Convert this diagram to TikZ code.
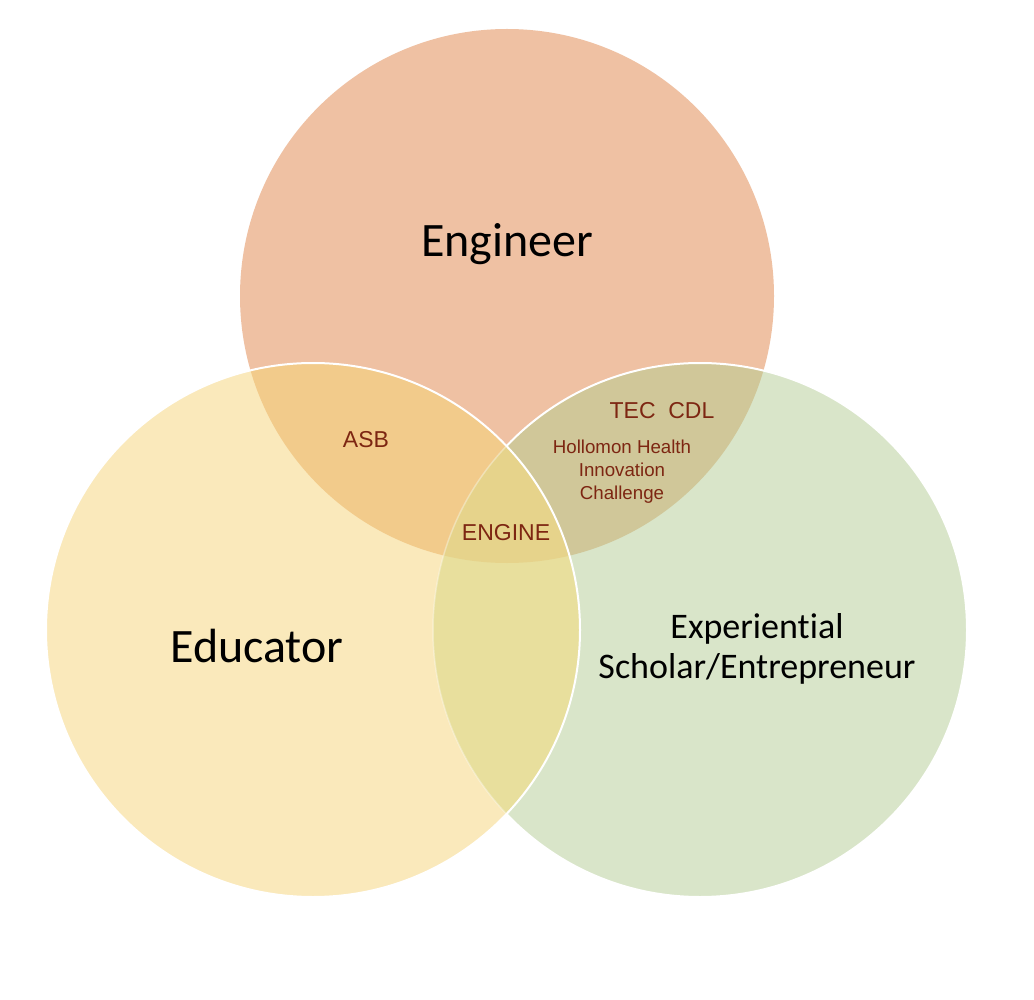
\documentclass[tikz,border=0pt]{standalone}
\usepackage{fontspec}
\setmainfont{Liberation Sans}
\newfontfamily\calfont[Ligatures=NoCommon]{Carlito}
\definecolor{engC}{HTML}{EFC1A3}
\definecolor{eduC}{HTML}{FAE9BB}
\definecolor{grnC}{HTML}{D9E5C9}
\definecolor{engeduC}{HTML}{F2CB8B}
\definecolor{enggrnC}{HTML}{D0C799}
\definecolor{edugrnC}{HTML}{E8DF9D}
\definecolor{allC}{HTML}{E6D38B}
\definecolor{labC}{HTML}{7D2612}
\tikzset{
  bigtext/.style={font=\calfont\fontsize{48}{50}\selectfont, text=black, inner sep=0pt},
  midtext/.style={font=\calfont\fontsize{36}{40}\selectfont, text=black, inner sep=0pt, align=center},
  smalltext/.style={font=\fontsize{23}{25}\selectfont, text=labC, inner sep=0pt},
  tinytext/.style={font=\fontsize{18.7}{23}\selectfont, text=labC, inner sep=0pt, align=center},
  rim/.style={draw=white, line width=2pt},
  rad/.style={radius=267}
}
\begin{document}
\begin{tikzpicture}[x=1pt,y=-1pt]
\useasboundingbox[fill=white] (0,0) rectangle (1034,1000);
\coordinate (cEng) at (507,296);
\coordinate (cEdu) at (313,630);
\coordinate (cGrn) at (700,630);
% engineer and green
\fill[engC] (cEng) circle[rad];
\fill[grnC] (cGrn) circle[rad];
\begin{scope}
  \clip (cEng) circle[rad];
  \fill[enggrnC] (cGrn) circle[rad];
\end{scope}
\draw[rim] (cGrn) circle[rad];
% educator layer
\fill[eduC] (cEdu) circle[rad];
\begin{scope}
  \clip (cEdu) circle[rad];
  \fill[engeduC] (cEng) circle[rad];
  \fill[edugrnC] (cGrn) circle[rad];
  \clip (cEng) circle[rad];
  \fill[allC] (cGrn) circle[rad];
\end{scope}
\begin{scope}
  \clip (cEdu) circle[rad];
  \draw[white, opacity=0.35, line width=1.5pt] (cGrn) circle[rad];
\end{scope}
\draw[rim] (cEdu) circle[rad];
% labels
\node[bigtext, anchor=base] (eng) at (507,257) {Engineer};
\node[bigtext, anchor=base] (edu) at (257,662) {Educator};
\node[midtext, anchor=base] (exp1) at (757,638) {Experiential};
\node[midtext, anchor=base] (exp2) at (757,678) {Scholar/Entrepreneur};
\node[smalltext] (asb) at (366,440) {ASB};
\node[smalltext] (engine) at (506,533) {ENGINE};
\node[smalltext] (tec) at (662,411) {TEC\ \ CDL};
\node[tinytext, anchor=base] (hol1) at (622,453) {Hollomon Health};
\node[tinytext, anchor=base] (hol2) at (622,476) {Innovation};
\node[tinytext, anchor=base] (hol3) at (622,499) {Challenge};
\end{tikzpicture}
\end{document}
